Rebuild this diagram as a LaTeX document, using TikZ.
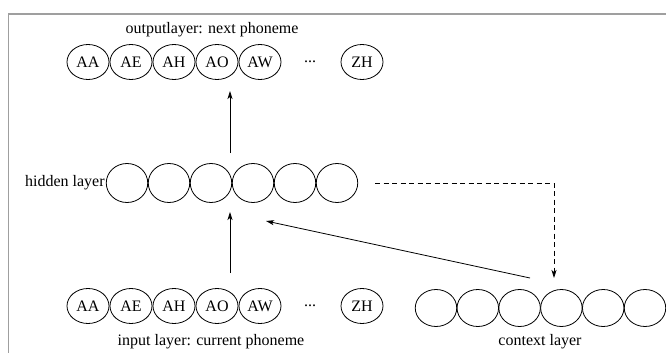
\documentclass[tikz,border=0pt]{standalone}
\usepackage{fontspec}
\setmainfont{Liberation Serif}
\usetikzlibrary{arrows.meta,shapes.geometric}
\begin{document}
\begin{tikzpicture}[x=1pt,y=-1pt,
  every node/.style={font=\fontsize{16}{19}\selectfont},
  ph/.style={draw, ellipse, line width=0.8pt, inner sep=0pt,
             minimum width=42pt, minimum height=35pt},
  hid/.style={draw, ellipse, line width=0.8pt, inner sep=0pt,
              minimum width=41.5pt, minimum height=39pt},
  ctx/.style={draw, ellipse, line width=0.8pt, inner sep=0pt,
              minimum width=41.5pt, minimum height=37pt},
  lbl/.style={inner sep=1pt},
  arr/.style={line width=0.8pt, -{Stealth[length=8pt,width=5pt,inset=2pt]}},
  darr/.style={arr, dash pattern=on 5pt off 3.5pt}]
\useasboundingbox (0,0) rectangle (666,353);

% outer frame (only its left and top edges fall inside the page)
\draw[gray!75, line width=1.4pt] (8.5,360) -- (8.5,14) -- (672,14);

% output layer
\node[lbl] (outT) at (212,30) {outputlayer: next phoneme};
\foreach \n [count=\i] in {AA,AE,AH,AO,AW}
  \node[ph] (o\n) at ({88+43*(\i-1)},62) {\n};
\node[lbl] (oDots) at (310,62) {...};
\node[ph] (oZH) at (362,62) {ZH};

% hidden layer
\foreach \i in {1,...,6}
  \node[hid] (h\i) at ({127+42*(\i-1)},183) {};
\node[lbl, anchor=east] (hidT) at (h1.west) {hidden layer};

% input layer
\foreach \n [count=\i] in {AA,AE,AH,AO,AW}
  \node[ph] (i\n) at ({88+43*(\i-1)},306) {\n};
\node[lbl] (iDots) at (310,306) {...};
\node[ph] (iZH) at (362,306) {ZH};
\node[lbl] (inT) at (211,342) {input layer: current phoneme};

% context layer
\foreach \i in {1,...,6}
  \node[ctx] (c\i) at ({436+41.8*(\i-1)},308) {};
\node[lbl] (ctxT) at (540,342) {context layer};

% connector end points
\coordinate (upFrom) at (230,153);
\coordinate (upTo)   at (230,91);
\coordinate (inFrom) at (230,273);
\coordinate (inTo)   at (230,212);
\coordinate (cxFrom) at (530,278);
\coordinate (cxTo)   at (266,221);
\coordinate (cpFrom) at (375,183);
\coordinate (cpTo)   at (554,278);

\draw[arr]  (upFrom) -- (upTo);
\draw[arr]  (inFrom) -- (inTo);
\draw[arr]  (cxFrom) -- (cxTo);
\draw[darr] (cpFrom) -| (cpTo);
\end{tikzpicture}
\end{document}
